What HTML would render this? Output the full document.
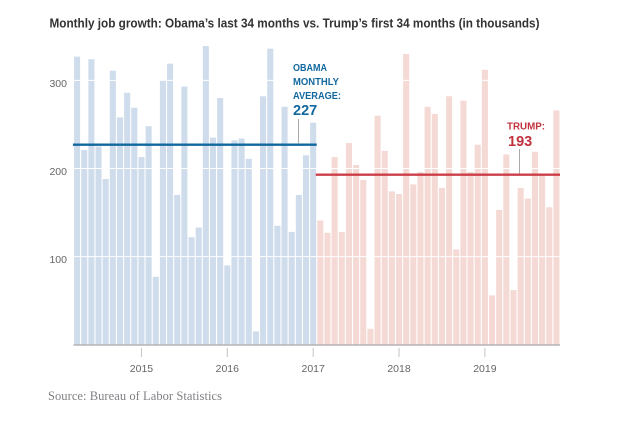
<!DOCTYPE html>
<html lang="en">
<head>
<meta charset="utf-8">
<title>Monthly job growth</title>
<style>
html,body{margin:0;padding:0;background:#fff;width:624px;height:422px;overflow:hidden}
svg{display:block}
text{font-family:"Liberation Sans",sans-serif}
</style>
</head>
<body>
<svg id="chart" width="624" height="422" viewBox="0 0 624 422" xmlns="http://www.w3.org/2000/svg">
  <text x="49.5" y="27.5" font-size="13" font-weight="700" fill="#333" textLength="490" lengthAdjust="spacingAndGlyphs">Monthly job growth: Obama’s last 34 months vs. Trump’s first 34 months (in thousands)</text>
  <g id="bars"></g>
  <g id="grid"></g>
  <g id="axis"></g>
  <g id="means"></g>
  <g id="annotations">
    <text x="293" y="71" font-size="10" font-weight="700" fill="#11689f" textLength="34" lengthAdjust="spacingAndGlyphs">OBAMA</text>
    <text x="293" y="85" font-size="10" font-weight="700" fill="#11689f" textLength="46" lengthAdjust="spacingAndGlyphs">MONTHLY</text>
    <text x="293" y="99" font-size="10" font-weight="700" fill="#11689f" textLength="48" lengthAdjust="spacingAndGlyphs">AVERAGE:</text>
    <text x="293" y="115" font-size="14.5" font-weight="700" fill="#11689f">227</text>
    <text x="507" y="129.5" font-size="10" font-weight="700" fill="#c2323d" textLength="38" lengthAdjust="spacingAndGlyphs">TRUMP:</text>
    <text x="508" y="146" font-size="14.5" font-weight="700" fill="#c2323d">193</text>
  </g>
  <text x="48" y="400" font-size="12.5" fill="#808085" style="font-family:'Liberation Serif',serif" textLength="174" lengthAdjust="spacing">Source: Bureau of Labor Statistics</text>
</svg>
<script>
var obamaValues = [327,221,324,225,188,311,258,286,269,213,248,77,300,319,170,293,122,133,339,235,280,90,232,234,211,15,282,336,135,270,128,170,215,252];
var trumpValues = [141,127,213,128,229,204,187,18,260,220,174,171,330,182,196,270,262,178,282,108,277,196,227,312,56,153,216,62,178,166,219,193,156,266];
var yTicks = [100,200,300];
var yearLabels = ['2015','2016','2017','2018','2019'];
var yearIndexes = [9,21,33,45,57];
var obamaAverage = 227;
var trumpAverage = 193;

var NS = 'http://www.w3.org/2000/svg';
var plotLeft = 73.5, plotRight = 560, baseY = 344.7, unitsPerPx = 0.881;
var monthCount = obamaValues.length + trumpValues.length;
var pitch = (plotRight - plotLeft) / monthCount;
function xPos(i){ return plotLeft + i * pitch; }
function xCenter(i){ return xPos(i) + pitch / 2; }
function yPos(v){ return baseY - v * unitsPerPx; }
function make(tag, attrs, parent){
  var el = document.createElementNS(NS, tag);
  for (var k in attrs) el.setAttribute(k, attrs[k]);
  parent.appendChild(el);
  return el;
}
var barsG = document.getElementById('bars');
var gridG = document.getElementById('grid');
var axisG = document.getElementById('axis');
var meansG = document.getElementById('means');

obamaValues.forEach(function(v, i){
  var b = make('rect', {x: xPos(i) + 0.55, y: yPos(v), width: pitch - 1.1, height: baseY - yPos(v), fill: '#cfdcec'}, barsG);
  
  
});
trumpValues.forEach(function(v, i){
  var j = i + obamaValues.length;
  var b = make('rect', {x: xPos(j) + 0.55, y: yPos(v), width: pitch - 1.1, height: baseY - yPos(v), fill: '#f4d9d4'}, barsG);
  
  
});
yTicks.forEach(function(t){
  var g = make('line', {x1: plotLeft, x2: plotRight, y1: yPos(t), y2: yPos(t), stroke: '#fff', 'stroke-width': 1}, gridG);
  
  
  var l = make('text', {x: 67, y: yPos(t) + 6.5, 'text-anchor': 'end', 'font-size': 10.5, fill: '#666'}, axisG);
  l.textContent = t;
  
  
});
var baseLine = make('line', {x1: plotLeft, x2: plotRight, y1: baseY + 0.3, y2: baseY + 0.3, stroke: '#a8a8a8', 'stroke-width': 1.3}, axisG);


yearLabels.forEach(function(label, i){
  var x = xCenter(yearIndexes[i]);
  var t = make('line', {x1: x, x2: x, y1: 348, y2: 357, stroke: '#c4c4c4', 'stroke-width': 1}, axisG);
  
  
  var l = make('text', {x: x, y: 372, 'text-anchor': 'middle', 'font-size': 10.5, fill: '#666'}, axisG);
  l.textContent = label;
  
  
});
var oMean = make('line', {x1: plotLeft - 0.5, x2: xPos(obamaValues.length), y1: yPos(obamaAverage), y2: yPos(obamaAverage), stroke: '#11689f', 'stroke-width': 2.4}, meansG);


var tMean = make('line', {x1: xPos(obamaValues.length) - 1, x2: plotRight, y1: yPos(trumpAverage), y2: yPos(trumpAverage), stroke: '#c9353f', 'stroke-width': 2.4, 'stroke-opacity': 0.95}, meansG);


var oLead = make('line', {x1: 298.5, x2: 298.5, y1: 119, y2: yPos(obamaAverage) - 1, stroke: '#aaa', 'stroke-width': 1}, meansG);


var tLead = make('line', {x1: 519.5, x2: 519.5, y1: 149, y2: yPos(trumpAverage) - 1, stroke: '#aaa', 'stroke-width': 1}, meansG);


</script>
</body>
</html>
